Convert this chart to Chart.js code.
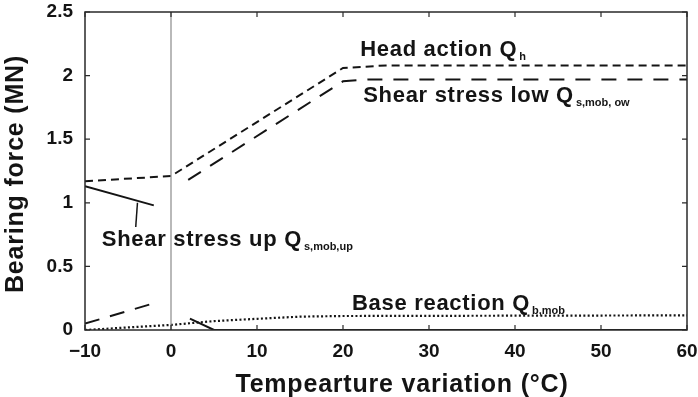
<!DOCTYPE html>
<html>
<head>
<meta charset="utf-8">
<script src="https://cdn.jsdelivr.net/npm/chart.js@4.4.1/dist/chart.umd.min.js"></script>
<style>
  html, body { margin: 0; padding: 0; background: #fff; }
  #wrap { width: 698px; height: 397px; }
</style>
</head>
<body>
<div id="wrap"><canvas id="chart" width="698" height="397"></canvas></div>
<script>
// Ejes
const xTicks = [-10, 0, 10, 20, 30, 40, 50, 60];
const yTicks = [0, 0.5, 1, 1.5, 2, 2.5];

// Series [temperatura, fuerza MN]; null = corte de la linea
const headAction = [[-10, 1.17], [0, 1.21], [20, 2.06], [25, 2.08], [60, 2.08]];
const shearLow = [[-10, 0.05], [-2, 0.21], null, [2, 1.18], [20, 1.955], [23, 1.97], [60, 1.97]];
const shearUp = [[-10, 1.13], [-2, 0.98], null, [2.2, 0.09], [5, 0], [60, 0]];
const baseReaction = [[-10, 0], [-5, 0.02], [0, 0.04], [5, 0.07], [10, 0.088], [15, 0.105], [20, 0.11], [60, 0.115]];
const zeroLine = [[0, 0], [0, 2.5]];
const upLeader = [[-4.1, 0.81], [-3.9, 1.0]];

// Etiquetas dentro del grafico (texto, subindice, posicion en datos)
const notes = [
    { main: 'Head action Q', sub: 'h', x: 22, y: 2.155 },
    { main: 'Shear stress low Q', sub: 's,mob, ow', x: 22.35, y: 1.79 },
    { main: 'Shear stress up Q', sub: 's,mob,up', x: -8.05, y: 0.66 },
    { main: 'Base reaction Q', sub: 'b,mob', x: 21.05, y: 0.157 }
];

const FONT = '"Liberation Sans", Arial, sans-serif';
const INK = '#141414';

function pts(arr) {
    return arr.map(p => p === null ? { x: 1, y: null } : { x: p[0], y: p[1] });
}

function line(data, dash, width, color) {
    return {
        data: pts(data),
        showLine: true,
        borderColor: color || INK,
        borderWidth: width || 2,
        borderDash: dash || [],
        pointRadius: 0,
        spanGaps: false,
        fill: false,
        tension: 0
    };
}

const framePlugin = {
    id: 'frame',
    afterDraw(chart) {
        const { ctx, chartArea: a, scales } = chart;
        ctx.save();
        // marco
        ctx.strokeStyle = '#2a2a2a';
        ctx.lineWidth = 1.5;
        ctx.strokeRect(a.left, a.top, a.right - a.left, a.bottom - a.top);
        // marcas hacia dentro
        ctx.lineWidth = 1.2;
        ctx.beginPath();
        xTicks.forEach(v => {
            const px = scales.x.getPixelForValue(v);
            ctx.moveTo(px, a.bottom); ctx.lineTo(px, a.bottom - 5);
            ctx.moveTo(px, a.top); ctx.lineTo(px, a.top + 5);
        });
        yTicks.forEach(v => {
            const py = scales.y.getPixelForValue(v);
            ctx.moveTo(a.left, py); ctx.lineTo(a.left + 5, py);
            ctx.moveTo(a.right, py); ctx.lineTo(a.right - 5, py);
        });
        ctx.stroke();

        // textos
        ctx.fillStyle = INK;
        ctx.textBaseline = 'alphabetic';
        notes.forEach(n => {
            const px = scales.x.getPixelForValue(n.x);
            const py = scales.y.getPixelForValue(n.y);
            ctx.font = 'bold 22px ' + FONT;
            ctx.letterSpacing = '0.7px';
            ctx.textAlign = 'left';
            ctx.fillText(n.main, px, py);
            const w = ctx.measureText(n.main).width;
            ctx.font = 'bold 11px ' + FONT;
            ctx.letterSpacing = '0px';
            ctx.fillText(n.sub, px + w + 2, py + 4);
        });

        // titulos de ejes
        ctx.font = 'bold 25px ' + FONT;
        ctx.letterSpacing = '0.8px';
        ctx.textAlign = 'center';
        ctx.fillText('Tempearture variation (°C)', 402, 392);
        ctx.translate(23, 174);
        ctx.rotate(-Math.PI / 2);
        ctx.fillText('Bearing force (MN)', 0, 0);
        ctx.restore();
        ctx.letterSpacing = '0px';
    }
};

const tickFont = { family: FONT, size: 19, weight: 'bold' };

function noPad(s) {
    s.paddingTop = 0;
    s.paddingBottom = 0;
    s.paddingLeft = 0;
    s.paddingRight = 0;
}

new Chart(document.getElementById('chart'), {
    type: 'scatter',
    data: {
        datasets: [
            line(zeroLine, [], 1.2, '#8a8a8a'),
            line(headAction, [8, 5]),
            line(shearLow, [15, 11]),
            line(shearUp, []),
            line(upLeader, [], 1.5),
            line(baseReaction, [2, 2.3], 2.2)
        ]
    },
    options: {
        responsive: false,
        animation: false,
        devicePixelRatio: 1,
        layout: { padding: { top: 12, right: 11, left: 0, bottom: 0 } },
        plugins: {
            legend: { display: false },
            tooltip: { enabled: false }
        },
        scales: {
            x: {
                type: 'linear',
                min: -10,
                max: 60,
                afterBuildTicks: s => { s.ticks = xTicks.map(v => ({ value: v })); },
                afterFit: s => { s.height = 67; noPad(s); },
                grid: { display: false, drawTicks: false },
                border: { display: false },
                ticks: {
                    color: INK,
                    font: tickFont,
                    padding: 10,
                    maxRotation: 0,
                    callback: v => (v < 0 ? '\u2212' + Math.abs(v) : String(v))
                }
            },
            y: {
                type: 'linear',
                min: 0,
                max: 2.5,
                afterBuildTicks: s => { s.ticks = yTicks.map(v => ({ value: v })); },
                afterFit: s => { s.width = 85; noPad(s); },
                grid: { display: false, drawTicks: false },
                border: { display: false },
                ticks: {
                    color: INK,
                    font: tickFont,
                    padding: 12,
                    callback: v => String(v)
                }
            }
        }
    },
    plugins: [framePlugin]
});
</script>
</body>
</html>
